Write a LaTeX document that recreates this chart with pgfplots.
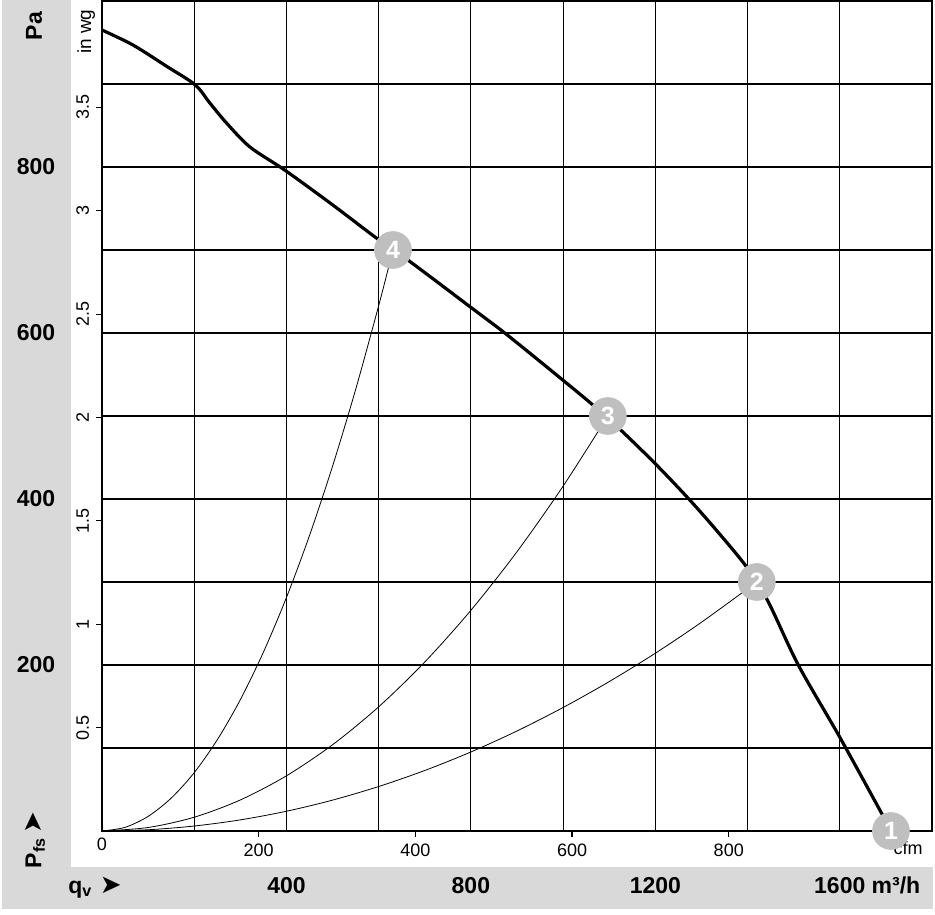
\documentclass[border=0pt]{standalone}
\usepackage{pgfplots}
\pgfplotsset{compat=1.18}
\usepackage{fontspec}
\setmainfont{Liberation Sans}
\newfontfamily\dejavu{DejaVu Sans}
\definecolor{bandgray}{RGB}{217,217,217}
\definecolor{circgray}{RGB}{191,191,191}
\begin{document}
\begin{tikzpicture}
\path[use as bounding box] (0pt,0pt) rectangle (467.5pt,457pt);
\fill[bandgray] (1pt,2.5pt) rectangle (35.5pt,457pt);
\fill[bandgray] (1pt,2.5pt) rectangle (466.5pt,23.5pt);
\node[rotate=90, font=\fontsize{11.5}{13}\bfseries\selectfont] at (17pt,444pt) {Pa};
\node[rotate=90, font=\fontsize{11.5}{13}\bfseries\selectfont] at (17.5pt,37pt) {P\textsubscript{fs}\,{\dejavu\fontsize{13}{14}\selectfont ➤}};
\node[anchor=base, font=\fontsize{11.5}{13}\bfseries\selectfont] at (47.5pt,10.5pt) {q\textsubscript{v}\,\,{\dejavu\fontsize{13}{14}\selectfont ➤}};
% secondary axis: cfm / in wg
\begin{axis}[
  scale only axis, width=415pt, height=415pt,
  at={(51pt,41.5pt)}, anchor=south west,
  xmin=0, xmax=1059.44, ymin=0, ymax=4.01464,
  axis line style={draw=none},
  xtick={200,400,600,800}, xticklabels={200,400,600,800},
  extra x ticks={0}, extra x tick labels={0},
  extra x tick style={major tick length=0pt},
  ytick={0.5,1,1.5,2,2.5,3,3.5}, yticklabels={0.5,1,1.5,2,2.5,3,3.5},
  tick align=outside, xtick pos=bottom, ytick pos=left,
  major tick length=3pt,
  tick style={black, line width=0.6pt},
  ticklabel style={font=\fontsize{9}{10}\selectfont},
  yticklabel style={rotate=90},
]
\end{axis}
% main axis: m3/h / Pa
\begin{axis}[
  scale only axis, width=415pt, height=415pt,
  at={(51pt,41.5pt)}, anchor=south west,
  xmin=0, xmax=1800, ymin=0, ymax=1000,
  xtick={0,200,...,1800}, ytick={0,100,...,1000},
  xticklabels={,,400,,800,,1200,,{1600\rlap{ m³/h}},},
  yticklabels={,,200,,400,,600,,800,,},
  major tick length=0pt,
  grid=major, grid style={black, line width=0.6pt},
  axis line style={black, line width=0.6pt},
  ticklabel style={font=\fontsize{11.5}{13}\bfseries\selectfont},
  xticklabel style={anchor=base, yshift=-31pt},
  yticklabel style={anchor=center, xshift=-33pt},
  clip=false,
]
\addplot[black, line width=1.6pt, smooth] coordinates {
(0,965) (67,947) (141,921) (202,899) (234,877) (270,853) (321,824) (397,796)
(501,754) (596,714) (668,686) (802,630) (878,598) (1000,543) (1065,513)
(1127,482) (1199,443) (1271,401) (1333,362) (1398,318) (1445,276) (1510,200)
(1600,113) (1691,21) (1711,0)};
\addplot[black, line width=0.4pt, smooth] coordinates {
(0,0) (50,4.4) (100,17.6) (150,39.6) (200,70.3) (250,109.9) (300,158.2) (350,215.4)
(400,281.3) (450,356.0) (500,439.5) (550,531.8) (600,632.9) (631,700)};
\addplot[black, line width=0.4pt, smooth] coordinates {
(0,0) (100,4.2) (200,16.6) (300,37.4) (400,66.5) (500,103.9) (600,149.6) (700,203.6)
(800,265.9) (900,336.5) (1000,415.5) (1097,500)};
\addplot[black, line width=0.4pt, smooth] coordinates {
(0,0) (100,1.5) (200,6.0) (300,13.4) (400,23.8) (500,37.2) (600,53.6) (700,72.9)
(800,95.2) (900,120.5) (1000,148.8) (1100,180.0) (1200,214.2) (1300,251.5) (1420,300)};
\addplot[circgray, only marks, mark=*, mark size=9.2pt, mark options={fill=circgray, draw=circgray},
  point meta=explicit symbolic, nodes near coords,
  nodes near coords style={anchor=center, text=white, font=\fontsize{12.5}{14}\bfseries\selectfont}]
  coordinates {(1711,0)[1] (1420,300)[2] (1097,500)[3] (631,700)[4]};
\node[font=\fontsize{9}{10}\selectfont] at (axis cs:1748,-20.5) {cfm};
\node[rotate=90, font=\fontsize{9.5}{10}\selectfont] at (axis cs:-34,963) {in wg};
\end{axis}
\end{tikzpicture}
\end{document}
